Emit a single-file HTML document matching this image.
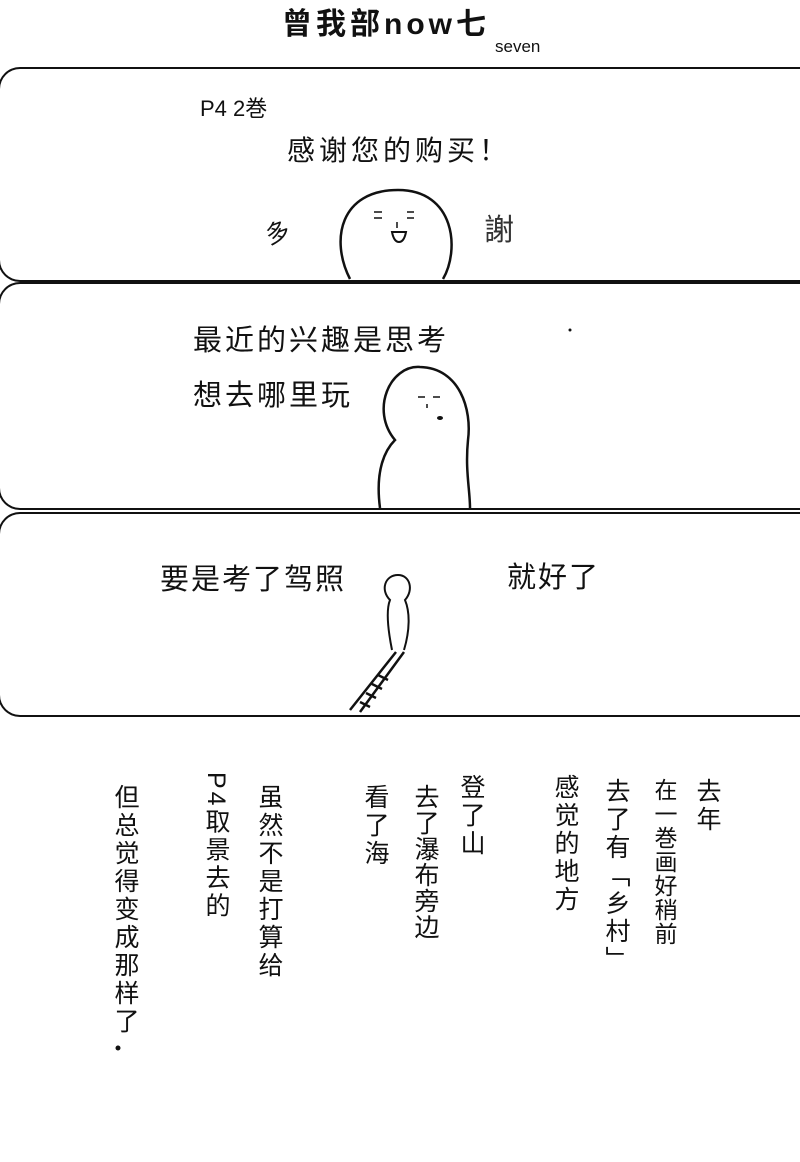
<!DOCTYPE html>
<html><head><meta charset="utf-8"><style>
body{margin:0;background:#fff;}
#p{position:relative;width:800px;height:1162px;overflow:hidden;background:#fff;font-family:"Liberation Sans","Noto Sans CJK SC",sans-serif;color:#111;}
.t{position:absolute;white-space:nowrap;line-height:1;}
.v{position:absolute;writing-mode:vertical-rl;font-size:25px;line-height:1;letter-spacing:3px;white-space:nowrap;}
.pan{position:absolute;left:-2px;width:830px;border:2.5px solid #111;border-right:none;border-radius:22px 0 0 22px;}
</style></head><body><div id="p">
<div class="t" style="left:282px;top:10px;font-size:30px;font-weight:bold;letter-spacing:4px;">曾我部now七</div>
<div class="t" style="left:495px;top:38px;font-size:17px;">seven</div>
<div class="t" style="left:290px;top:22px;font-size:8px;">·</div>

<div class="pan" style="top:67px;height:211px;"></div>
<div class="pan" style="top:282px;height:224px;"></div>
<div class="pan" style="top:512px;height:201px;"></div>

<div class="t" style="left:200px;top:98px;font-size:22px;">P4 2巻</div>
<div class="t" style="left:287px;top:137px;font-size:28px;letter-spacing:4px;">感谢您的购买！</div>
<div class="t" style="left:266px;top:222px;font-size:24px;transform:rotate(-20deg);">多</div>
<div class="t" style="left:484px;top:216px;font-size:30px;color:#333;">謝</div>
<svg style="position:absolute;left:0;top:0" width="800" height="1162">
<path d="M350,279 C330,240 340,190 398,190 C455,190 460,250 443,279" fill="#fff" stroke="#111" stroke-width="2.5"/>
<path d="M374,212h8M374,218h8M407,212h7M407,218h7M397,222v6" stroke="#111" stroke-width="1.5"/>
<path d="M392,232 h14 q-2,10 -7,10 q-5,0 -7,-10z" fill="none" stroke="#111" stroke-width="2"/>
<path d="M380,508 C375,470 385,450 395,440 C370,410 390,365 420,367 C460,368 472,410 468,440 C465,470 470,490 470,508" fill="#fff" stroke="#111" stroke-width="2.5"/>
<path d="M418,397h7M433,397h7M427,404v4" stroke="#111" stroke-width="1.5"/>
<ellipse cx="440" cy="418" rx="3" ry="2" fill="#111"/>
<path d="M392,650 C388,630 386,610 390,600 C380,590 385,575 398,575 C410,575 414,590 405,600 C410,612 410,630 404,650" fill="#fff" stroke="#111" stroke-width="2"/>
<path d="M396,652 L350,710 M404,652 L360,712 M378,675l10,5 M372,684l10,5 M366,693l10,5 M360,702l10,5" stroke="#111" stroke-width="2.5"/>
<circle cx="570" cy="330" r="1.5" fill="#111"/>
<circle cx="118" cy="1048" r="2.5" fill="#111"/>
</svg>

<div class="t" style="left:193px;top:327px;font-size:29px;letter-spacing:3px;">最近的兴趣是思考</div>
<div class="t" style="left:193px;top:382px;font-size:29px;letter-spacing:3px;">想去哪里玩</div>
<div class="t" style="left:160px;top:566px;font-size:29px;letter-spacing:2px;">要是考了驾照</div>
<div class="t" style="left:507px;top:564px;font-size:29px;letter-spacing:2px;">就好了</div>

<div class="v" style="left:694px;top:778px;">去年</div>
<div class="v" style="left:652px;top:778px;font-size:23px;letter-spacing:1px;">在一巻画好稍前</div>
<div class="v" style="left:603px;top:778px;">去了有「乡村」</div>
<div class="v" style="left:552px;top:774px;">感觉的地方</div>
<div class="v" style="left:458px;top:774px;">登了山</div>
<div class="v" style="left:412px;top:784px;letter-spacing:1px;">去了瀑布旁边</div>
<div class="v" style="left:362px;top:784px;">看了海</div>
<div class="v" style="left:256px;top:784px;">虽然不是打算给</div>
<div class="v" style="left:203px;top:772px;">P4取景去的</div>
<div class="v" style="left:112px;top:784px;">但总觉得变成那样了</div>
</div></body></html>
